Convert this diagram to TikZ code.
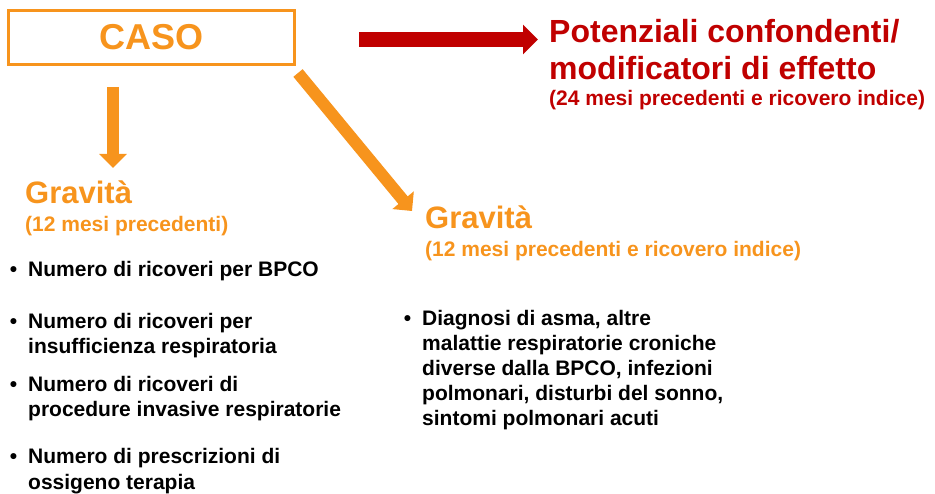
\documentclass[tikz,border=0pt]{standalone}
\usepackage{fontspec}
\setmainfont{Liberation Sans}
\usepackage{xcolor}
\usepackage{tikz}
\usetikzlibrary{arrows.meta, positioning}
\definecolor{caseorange}{HTML}{F7941D}
\definecolor{confred}{HTML}{C00000}
\newcommand{\bul}{\llap{\textbullet\hspace{11pt}}}

\begin{document}
\begin{tikzpicture}[x=1pt,y=-1pt,
  every node/.style={inner sep=0pt, font=\bfseries},
  casebox/.style={draw=caseorange, line width=3pt, minimum width=286pt,
    minimum height=54.5pt, text=caseorange, font=\bfseries\fontsize{36}{40}\selectfont},
  head/.style={anchor=base west, text=caseorange, font=\bfseries\fontsize{31}{36}\selectfont},
  sub/.style={anchor=base west, text=caseorange, font=\bfseries\fontsize{21}{25}\selectfont},
  item/.style={anchor=base west, align=left, font=\bfseries\fontsize{21}{25}\selectfont},
  orangearrow/.style={draw=caseorange, line width=12pt, -{Triangle[width=27pt,length=14pt]}},
  redarrow/.style={draw=confred, line width=15pt, -{Triangle[width=29pt,length=15pt]}}
]
\useasboundingbox (0,0) rectangle (935,494);

% Case box
\node[casebox] (caso) at (151.4,37.3) {CASO};

% Confounders (base = last line)
\node[anchor=base west, align=left, text=confred,
  font=\bfseries\fontsize{32}{37}\selectfont] (conf) at (549,80)
  {Potenziali confondenti/\\modificatori di effetto};
\node[sub, text=confred] (confsub) at (549,106)
  {(24 mesi precedenti e ricovero indice)};

% Left column
\node[head] (grav1) at (25,204) {Gravità};
\node[sub] (grav1sub) at (25,232) {(12 mesi precedenti)};

\node[item] (b1) at (28,277) {\bul Numero di ricoveri per BPCO};
\node[item] (b2) at (28,354) {\bul Numero di ricoveri per\\insufficienza respiratoria};
\node[item] (b3) at (28,417) {\bul Numero di ricoveri di\\procedure invasive respiratorie};
\node[item] (b4) at (28,489) {\bul Numero di prescrizioni di\\ossigeno terapia};

% Right column
\node[head] (grav2) at (425,229) {Gravità};
\node[sub] (grav2sub) at (425,257) {(12 mesi precedenti e ricovero indice)};

\node[item] (b5) at (422,425) {\bul Diagnosi di asma, altre\\malattie respiratorie croniche\\diverse dalla BPCO, infezioni\\polmonari, disturbi del sonno,\\sintomi polmonari acuti};

% Arrows
\coordinate (downfrom) at (113,87);
\coordinate (downto) at (113,168);
\coordinate (diagfrom) at (298,73);
\coordinate (diagto) at (412,211);
\coordinate (redfrom) at (359,39.5);
\coordinate (redto) at (538,39.5);

\draw[orangearrow] (downfrom) -- (downto);
\draw[orangearrow] (diagfrom) -- (diagto);
\draw[redarrow] (redfrom) -- (redto);

\end{tikzpicture}
\end{document}
